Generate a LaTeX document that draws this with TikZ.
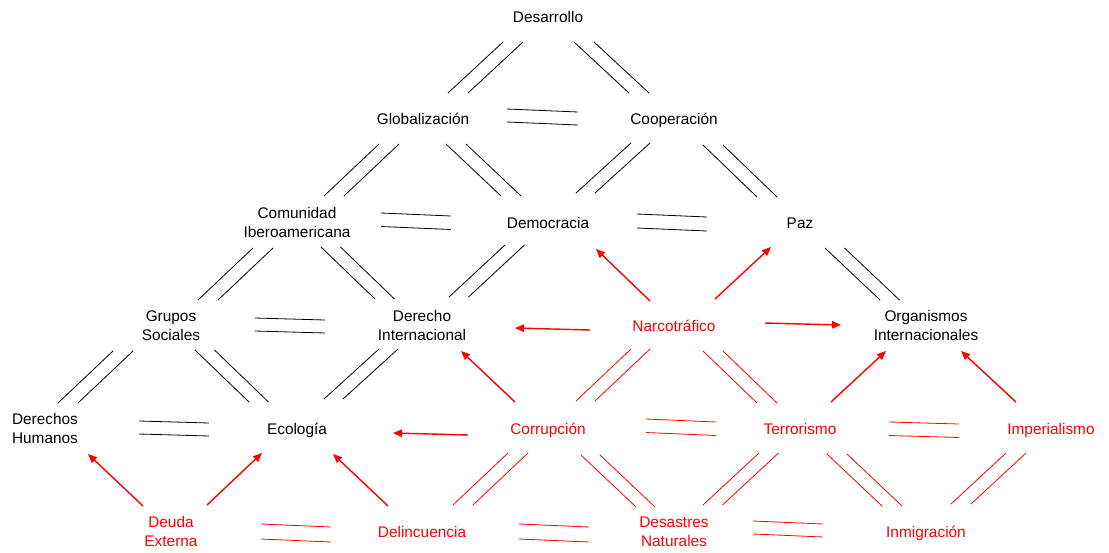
\documentclass[tikz,border=0pt]{standalone}
\usepackage{fontspec}
\setmainfont{Liberation Sans}
\usetikzlibrary{calc,arrows.meta}

\tikzset{
  term/.style={inner sep=0pt, font=\fontsize{15.4}{19}\selectfont, text height=11pt, text depth=0pt},
  term2/.style={inner sep=0pt, font=\fontsize{15.4}{19}\selectfont, align=center},
  hot/.style={text=red},
  link/.style={line width=0.8pt, draw=black},
  redlink/.style={line width=0.8pt, draw=red},
  push/.style={draw=red, line width=1.4pt, -{Triangle[length=9pt,width=7.5pt]}},
}

% pair of parallel bars between two terms: [style]{A}{offset at A}{B}{offset at B}{shift of 2nd bar}
\newcommand\dbar[6][link]{%
  \draw[#1] ($(#2)+(#3)$) -- ($(#4)+(#5)$);
  \draw[#1] ($(#2)+(#3)+(#6)$) -- ($(#4)+(#5)+(#6)$);}
% red influence arrow: {from}{offset}{to}{offset}
\newcommand\pusharrow[4]{\draw[push] ($(#1)+(#2)$) -- ($(#3)+(#4)$);}

\begin{document}
\begin{tikzpicture}[x=1pt,y=-1pt]
\useasboundingbox (0,0) rectangle (1109,552);

% terms
\node[term]  (des)   at (548,17)    {Desarrollo};
\node[term]  (glob)  at (423,119)   {Globalización};
\node[term]  (coop)  at (674,119)   {Cooperación};
\node[term2] (com)   at (297,222.5) {Comunidad\\Iberoamericana};
\node[term]  (dem)   at (548,223)   {Democracia};
\node[term]  (paz)   at (800,223)   {Paz};
\node[term2] (gru)   at (171,325.5) {Grupos\\Sociales};
\node[term2] (der)   at (422,325.5) {Derecho\\Internacional};
\node[term,hot] (narco) at (674,326) {Narcotráfico};
\node[term2] (org)   at (926,325.5) {Organismos\\Internacionales};
\node[term2] (dh)    at (45,428.5)  {Derechos\\Humanos};
\node[term]  (eco)   at (297,429)   {Ecología};
\node[term,hot] (cor) at (548,429)  {Corrupción};
\node[term,hot] (ter) at (800,429)  {Terrorismo};
\node[term,hot] (imp) at (1051,429) {Imperialismo};
\node[term2,hot] (deu) at (171,531.5) {Deuda\\Externa};
\node[term,hot] (del) at (422,532)  {Delincuencia};
\node[term2,hot] (dn) at (674,531.5) {Desastres\\Naturales};
\node[term,hot] (inm) at (926,532)  {Inmigración};

% black double links
\dbar{des}{-45,25}{glob}{25,-26}{20,0}
\dbar{des}{26,25}{coop}{-45,-26}{20,0}
\dbar{glob}{84,-10}{coop}{-96,-7}{0,13}
\dbar{glob}{-44,25}{com}{27,-26.5}{20,0}
\dbar{glob}{23,25}{dem}{-47,-27}{20,0}
\dbar{coop}{-43,24}{dem}{28,-30}{19,0}
\dbar{coop}{29,26}{paz}{-43,-26}{20,0}
\dbar{com}{84,-9.5}{dem}{-97,-7}{0,13.5}
\dbar{dem}{89,-9}{paz}{-93,-6}{0,14}
\dbar{com}{-44,25.5}{gru}{27,-25.5}{20,0}
\dbar{com}{24,24.5}{der}{-47,-26.5}{19.5,0}
\dbar{dem}{-43,22}{der}{27,-28.5}{19.5,0}
\dbar{paz}{25,25}{org}{-46,-25.5}{19.5,0}
\dbar{gru}{84,-7.5}{der}{-97,-5.5}{0,13}
\dbar{gru}{-58,25.5}{dh}{13,-25.5}{20,0}
\dbar{gru}{24,24.5}{eco}{-48,-27}{19.5,0}
\dbar{der}{-43,23.5}{eco}{27,-30}{19,0}
\dbar{dh}{94,-7.5}{eco}{-88,-6}{0,13}

% red double links
\dbar[redlink]{narco}{-43,23}{cor}{28,-28}{19,0}
\dbar[redlink]{narco}{29,25}{ter}{-43,-26}{20,0}
\dbar[redlink]{cor}{98,-10}{ter}{-84,-7}{0,13.5}
\dbar[redlink]{ter}{89,-7}{imp}{-92,-5}{0,13.5}
\dbar[redlink]{deu}{90,-7.5}{del}{-91,-5}{0,15}
\dbar[redlink]{cor}{-40,24}{del}{31,-27}{20,0}
\dbar[redlink]{del}{97,-8}{dn}{-85,-4.5}{0,15}
\dbar[redlink]{cor}{33,26}{dn}{-38,-24.5}{19,0}
\dbar[redlink]{ter}{-41,24}{dn}{29,-26.5}{19.5,0}
\dbar[redlink]{dn}{79,-10.5}{inm}{-103,-8}{0,13}
\dbar[redlink]{ter}{27,25}{inm}{-44,-26}{20,0}
\dbar[redlink]{imp}{-45,24}{inm}{25,-28}{20,0}

% red arrows
\pusharrow{narco}{-84,4}{der}{93,2.5}
\pusharrow{narco}{-24,-25}{dem}{48,26}
\pusharrow{narco}{41,-27}{paz}{-29,24}
\pusharrow{narco}{91,-3}{org}{-85,-0.5}
\pusharrow{cor}{-33,-27}{der}{39,25.5}
\pusharrow{cor}{-80,6}{eco}{96,4}
\pusharrow{ter}{31,-27}{org}{-40,25.5}
\pusharrow{imp}{-35,-27}{org}{35,25.5}
\pusharrow{deu}{-28,-25.5}{dh}{43,25.5}
\pusharrow{deu}{36,-26.5}{eco}{-35,24}
\pusharrow{del}{-34,-26}{eco}{36,25}
\end{tikzpicture}
\end{document}
